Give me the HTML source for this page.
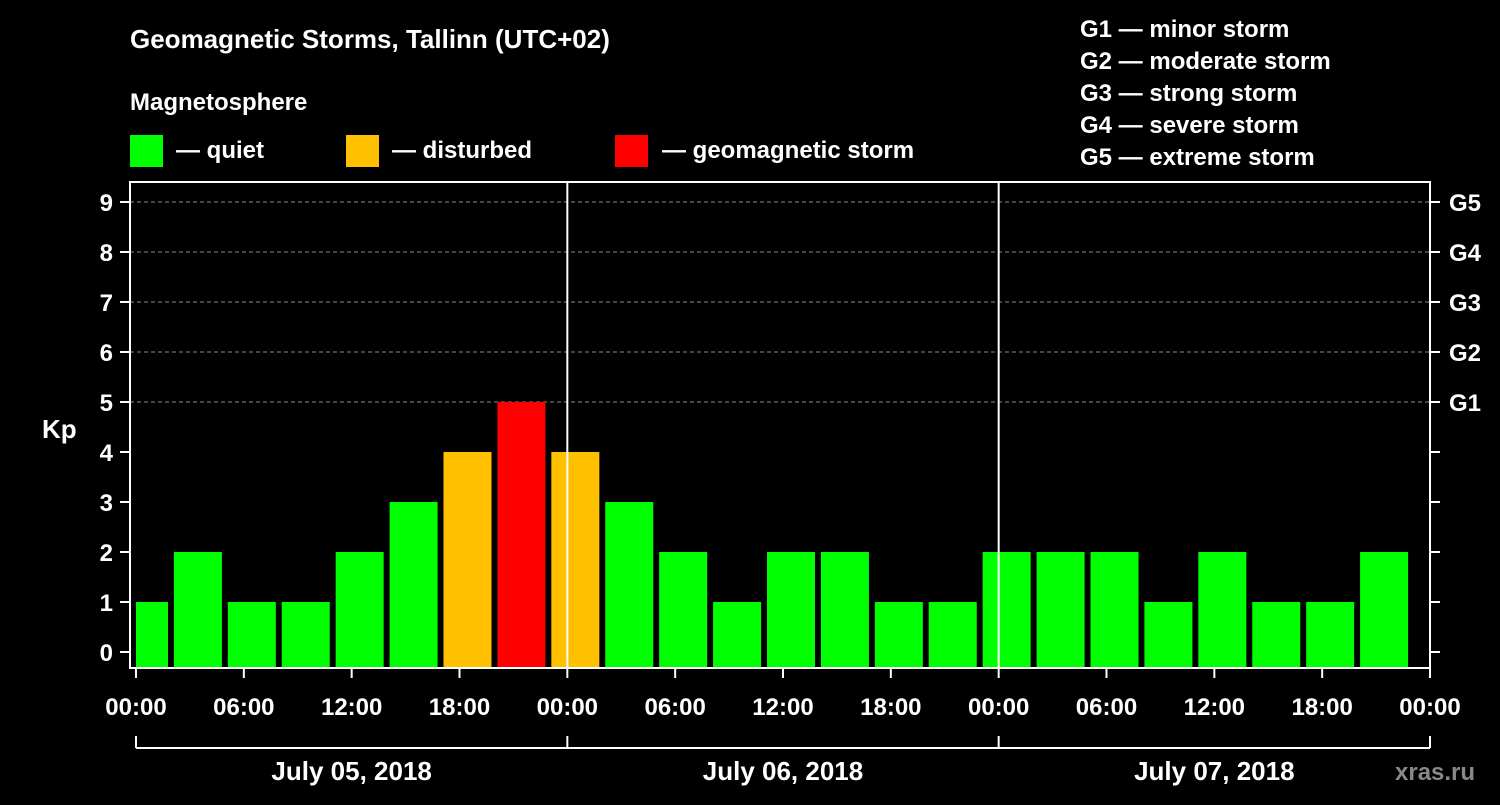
<!DOCTYPE html>
<html><head><meta charset="utf-8"><style>
body{margin:0;background:#000;}
svg text{font-family:"Liberation Sans",Arial,sans-serif;font-weight:bold;fill:#fff;}
</style></head><body>
<svg id="chart" width="1500" height="800" xmlns="http://www.w3.org/2000/svg">
<rect width="1500" height="800" fill="#000"/>
<text x="130" y="48" font-size="26">Geomagnetic Storms, Tallinn (UTC+02)</text>
<text x="130" y="110" font-size="24">Magnetosphere</text>
<g><rect x="130" y="135" width="33" height="32" fill="#00ff00"/><text x="176" y="158" font-size="24">— quiet</text></g>
<g><rect x="346" y="135" width="33" height="32" fill="#ffc000"/><text x="392" y="158" font-size="24">— disturbed</text></g>
<g><rect x="615" y="135" width="33" height="32" fill="#ff0000"/><text x="662" y="158" font-size="24">— geomagnetic storm</text></g>
<g font-size="24">
<text x="1080" y="37">G1 — minor storm</text>
<text x="1080" y="69">G2 — moderate storm</text>
<text x="1080" y="101">G3 — strong storm</text>
<text x="1080" y="133">G4 — severe storm</text>
<text x="1080" y="165">G5 — extreme storm</text>
</g>
<text x="42" y="438" font-size="26">Kp</text>
<g id="grid"></g><g id="bars"></g><g id="axes"></g>
<text x="1395" y="780" font-size="24" style="fill:#888">xras.ru</text>
</svg>
<script>
const kpValues=[1,2,1,1,2,3,4,5,4,3,2,1,2,2,1,1,2,2,2,1,2,1,1,2];
const yTicks=[0,1,2,3,4,5,6,7,8,9];
const gLabels=["G1","G2","G3","G4","G5"];
const gLevels=[5,6,7,8,9];
const xTickLabels=["00:00","06:00","12:00","18:00","00:00","06:00","12:00","18:00","00:00","06:00","12:00","18:00","00:00"];
const dayLabels=["July 05, 2018","July 06, 2018","July 07, 2018"];
const NS="http://www.w3.org/2000/svg";
const L=130,R=1430,T=182,B=668,X0=136,X1=1430;
const y=v=>652-50*v;
const xh=h=>X0+(X1-X0)*h/72;
function mk(tag,attrs,parent,text){const e=document.createElementNS(NS,tag);for(const k in attrs)e.setAttribute(k,attrs[k]);if(text!==undefined)e.textContent=text;document.getElementById(parent).appendChild(e);return e;}
gLevels.forEach((g,i)=>{
 let l=mk('line',{x1:L,x2:R,y1:y(g),y2:y(g),stroke:'#888','stroke-dasharray':'4,3','stroke-width':1},'grid');
 
 
});
const step=(X1-X0)/24;
kpValues.forEach((v,i)=>{
 const c=X0+8+i*step;
 let x1=Math.max(L+6,c-24),x2=c+24;
 const col=v>=5?'#ff0000':(v>=4?'#ffc000':'#00ff00');
 let r=mk('rect',{x:x1,y:y(v),width:x2-x1,height:B-y(v),fill:col},'bars');
 
 
});
[1,2].forEach(d=>{let l=mk('line',{x1:xh(d*24),x2:xh(d*24),y1:T,y2:B,stroke:'#fff','stroke-width':2},'axes');
 
 });
let fr=mk('rect',{x:L,y:T,width:R-L,height:B-T,fill:'none',stroke:'#fff','stroke-width':2},'axes');


yTicks.forEach(v=>{
 mk('line',{x1:120,x2:L,y1:y(v),y2:y(v),stroke:'#fff','stroke-width':2},'axes');
 mk('line',{x1:R,x2:1440,y1:y(v),y2:y(v),stroke:'#fff','stroke-width':2},'axes');
 let t=mk('text',{x:113,y:y(v)+9,'font-size':24,'text-anchor':'end'},'axes',String(v));
 
 
});
gLevels.forEach((g,i)=>{let t=mk('text',{x:1449,y:y(g)+9,'font-size':24},'axes',gLabels[i]);
 
 });
xTickLabels.forEach((s,i)=>{
 const x=xh(i*6);
 mk('line',{x1:x,x2:x,y1:B,y2:678,stroke:'#fff','stroke-width':2},'axes');
 let t=mk('text',{x:x,y:715,'font-size':24,'text-anchor':'middle'},'axes',s);
 
 
});
mk('line',{x1:X0,x2:X1,y1:748,y2:748,stroke:'#fff','stroke-width':2},'axes');
[0,1,2,3].forEach(d=>mk('line',{x1:xh(d*24),x2:xh(d*24),y1:736,y2:748,stroke:'#fff','stroke-width':2},'axes'));
dayLabels.forEach((s,i)=>{let t=mk('text',{x:xh(i*24+12),y:780,'font-size':26,'text-anchor':'middle'},'axes',s);
 
 });
</script>
</body></html>
